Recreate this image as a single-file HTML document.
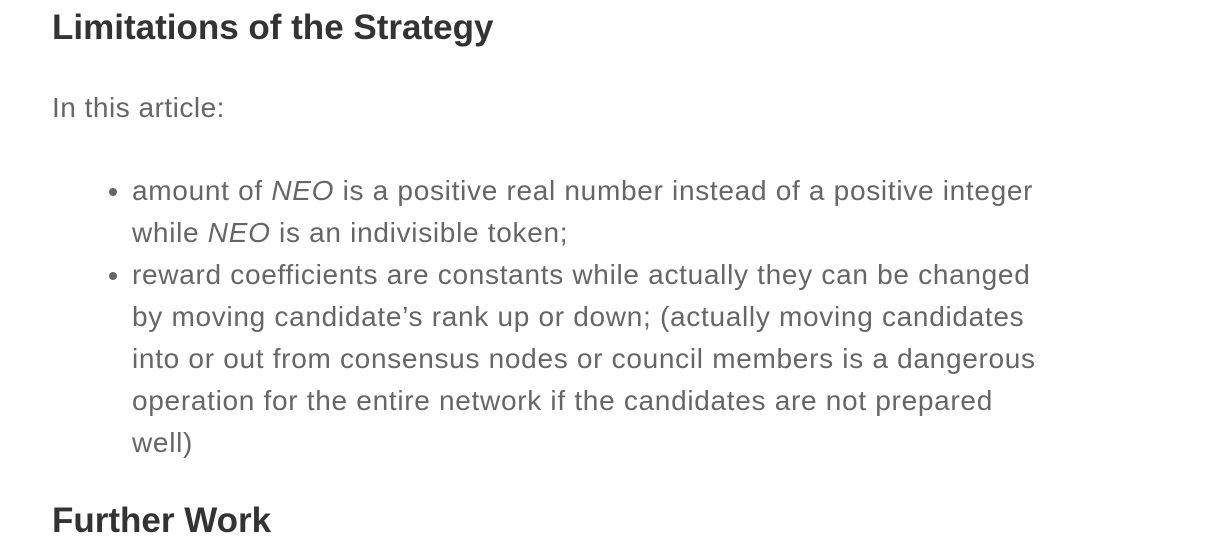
<!DOCTYPE html>
<html><head><meta charset="utf-8"><style>
html,body{margin:0;padding:0;background:#fff;width:1212px;height:510px;overflow:hidden;font-family:"Liberation Sans",sans-serif;}
h2{position:absolute;left:52px;top:8px;margin:0;font-size:35px;font-weight:bold;color:#333;line-height:40px;white-space:nowrap;}
p{position:absolute;left:52px;top:88px;margin:0;font-size:28px;letter-spacing:0.5px;color:#666;line-height:40px;}
ul{position:absolute;left:52px;top:170px;margin:0;padding:0 0 0 80px;width:1100px;font-size:28px;letter-spacing:0.7px;color:#666;line-height:42px;white-space:nowrap;}
li{margin:0;}
h2.next{top:501px;}
</style></head><body>
<h2>Limitations of the Strategy</h2>
<p>In this article:</p>
<ul>
<li>amount of <i>NEO</i> is a positive real number instead of a positive integer<br>while <i>NEO</i> is an indivisible token;</li>
<li>reward coefficients are constants while actually they can be changed<br>by moving candidate’s rank up or down; (actually moving candidates<br>into or out from consensus nodes or council members is a dangerous<br>operation for the entire network if the candidates are not prepared<br>well)</li>
</ul>
<h2 class="next">Further Work</h2>
</body></html>
